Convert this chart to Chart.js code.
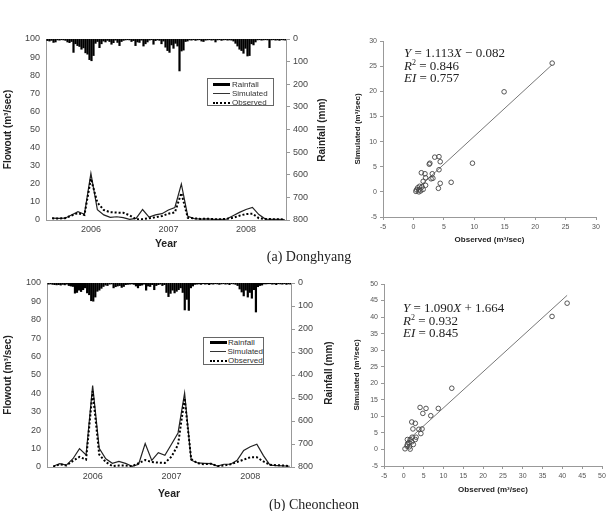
<!DOCTYPE html>
<html><head><meta charset="utf-8">
<script src="https://cdn.jsdelivr.net/npm/chart.js@4.4.1/dist/chart.umd.min.js"></script>
<style>
body{margin:0;background:#fff;width:611px;height:511px;position:relative;overflow:hidden;font-family:"Liberation Sans",Arial,sans-serif;}
canvas{position:absolute;}
.rt{position:absolute;font:bold 10px "Liberation Sans",Arial,sans-serif;color:#222;white-space:nowrap;transform:translate(-50%,-50%) rotate(-90deg);}
.leg{position:absolute;border:1px solid #666;background:#fff;font:8px "Liberation Sans",Arial,sans-serif;color:#333;box-sizing:border-box;}
.row{height:9px;line-height:9px;display:flex;align-items:center;white-space:nowrap;}
.sw{display:inline-block;width:17px;margin:0 2px 0 5px;}
.bar{height:3px;background:#000;}
.sol{border-top:1px solid #333;}
.dot{border-top:2px dotted #000;}
.eq{position:absolute;font:13px "Liberation Serif","Times New Roman",serif;color:#222;line-height:12.5px;white-space:nowrap;}
.cap{position:absolute;font:14px "Liberation Serif","Times New Roman",serif;color:#222;white-space:nowrap;transform:translate(-50%,-50%);}
</style></head><body>
<canvas id="tsA" width="340" height="254" style="left:0;top:0"></canvas>
<canvas id="tsB" width="340" height="254" style="left:0;top:250px"></canvas>
<canvas id="scA" width="271" height="252" style="left:340px;top:0"></canvas>
<canvas id="scB" width="271" height="252" style="left:340px;top:250px"></canvas>

<div class="rt" style="left:321px;top:130px">Rainfall (mm)</div>
<div class="rt" style="left:328px;top:373px">Rainfall (mm)</div>

<div class="leg" style="left:207px;top:78px;width:67px;height:28px;padding-top:1px">
  <div class="row"><span class="sw bar"></span>Rainfall</div>
  <div class="row"><span class="sw sol"></span>Simulated</div>
  <div class="row"><span class="sw dot"></span>Observed</div>
</div>
<div class="leg" style="left:203px;top:337px;width:61px;height:28px">
  <div class="row"><span class="sw bar" style="margin-left:6px;margin-right:1px"></span>Rainfall</div>
  <div class="row"><span class="sw sol" style="margin-left:6px;margin-right:1px"></span>Simulated</div>
  <div class="row"><span class="sw dot" style="margin-left:6px;margin-right:1px"></span>Observed</div>
</div>

<div class="eq" style="left:404px;top:47px"><i>Y</i> = 1.113<i>X</i> − 0.082<br><i>R</i><sup style="font-size:8px;line-height:0">2</sup> = 0.846<br><i>EI</i> = 0.757</div>
<div class="eq" style="left:403px;top:302px"><i>Y</i> = 1.090<i>X</i> + 1.664<br><i>R</i><sup style="font-size:8px;line-height:0">2</sup> = 0.932<br><i>EI</i> = 0.845</div>

<div class="cap" style="left:309px;top:257px">(a) Donghyang</div>
<div class="cap" style="left:314px;top:505px">(b) Cheoncheon</div>

<script>
// ---- time axis (monthly) ----
const months = ["2005-07","2005-08","2005-09","2005-10","2005-11","2005-12",
 "2006-01","2006-02","2006-03","2006-04","2006-05","2006-06","2006-07","2006-08","2006-09","2006-10","2006-11","2006-12",
 "2007-01","2007-02","2007-03","2007-04","2007-05","2007-06","2007-07","2007-08","2007-09","2007-10","2007-11","2007-12",
 "2008-01","2008-02","2008-03","2008-04","2008-05","2008-06","2008-07"];
const yearLabels = ["2006","2007","2008"];

// ---- (a) Donghyang ----
const simA = [1.0,0.9,1.0,2.8,4.6,3.2,25.7,5.7,2.8,1.5,1.8,1.3,0.4,0.9,5.8,1.6,2.8,3.5,5.5,6.9,19.9,2.0,0.8,0.5,0.6,0.4,0.3,0.5,2.3,4.2,5.8,7.0,3.0,0.5,0.4,0.3,0.2];
const obsA = [0.9,0.8,1.0,2.5,3.8,2.8,22.8,9.7,5.5,4.3,4.1,4.0,2.6,0.4,0.5,1.0,1.5,2.2,3.5,4.2,14.9,1.2,0.9,0.6,0.7,0.5,0.4,0.6,1.2,2.4,3.3,3.5,1.0,0.6,0.5,0.4,0.3];
const rainA = [6,8,5,14,12,3,4,2,3,5,12,15,10,58,20,28,32,44,38,60,66,90,95,72,18,10,37,20,8,12,5,10,22,15,4,14,28,10,5,3,
 2,3,10,6,28,12,14,4,30,20,12,4,2,22,6,3,5,20,8,35,50,58,25,40,18,30,140,52,48,10,8,3,4,2,5,3,2,8,10,4,
 3,2,4,3,12,3,2,5,3,2,4,3,4,8,18,30,44,50,62,40,74,72,20,25,12,3,2,4,3,2,3,37,3,2,4,3,5,2,3,4];
const scObsA = [22.8,14.9,9.7,6.2,3.5,4.2,4.4,2.6,2.7,4.2,4.1,4.4,3.1,3.2,2.9,1.3,1.9,2.0,1.6,2.0,1.4,1.0,0.7,0.5,0.4,0.9,1.2,1.6,0.9];
const scSimA = [25.6,19.9,5.7,1.9,6.9,7.0,6.0,5.5,5.7,4.4,0.7,1.7,3.6,2.7,2.6,3.8,3.6,2.8,2.1,1.3,1.0,1.1,0.8,0.4,0.1,0.4,0.2,0.5,0.0];
const fitA = [1.113, -0.082];

// ---- (b) Cheoncheon ----
const simB = [0.4,1.8,1.0,4.5,10.0,6.5,44.2,10.2,4.5,2.0,3.0,2.0,0.4,1.5,12.7,3.6,7.8,6.4,12.4,18.5,40.2,3.7,2.2,2.0,1.8,0.5,1.5,1.5,3.6,9.0,11.0,12.4,6.2,1.0,0.8,0.6,0.4];
const obsB = [0.2,1.5,0.8,3.3,5.5,4.0,41.2,6.8,2.7,0.5,0.8,0.8,0.4,2.1,3.8,2.7,2.4,2.2,5.6,12.1,37.4,4.3,2.0,1.5,1.8,0.5,0.8,1.5,2.7,4.0,5.3,5.3,3.0,1.2,1.0,0.8,0.5];
const rainB = [4,3,5,6,7,6,8,5,7,4,10,12,14,43,40,30,36,28,20,42,50,76,78,60,35,30,22,14,8,10,
 4,3,20,15,12,10,18,14,6,5,4,3,5,12,20,10,8,4,30,12,14,6,28,10,6,4,10,6,40,58,
 44,30,42,35,28,20,40,116,70,118,20,12,5,4,3,5,2,4,3,6,3,4,2,3,5,3,2,4,3,6,
 2,3,5,10,25,38,55,30,60,40,65,28,125,15,10,8,3,3,2,2,4,3,6,2,3,4,2,5,3,4];
const scObsB = [41.2,37.4,12.1,8.7,6.8,4.1,5.6,4.8,2.0,2.9,2.3,3.8,4.6,4.3,3.1,2.1,0.9,1.6,1.3,2.0,2.4,0.8,1.4,0.3,1.6,0.9,2.9];
const scSimB = [44.2,40.2,18.5,12.4,10.2,12.7,12.4,10.9,8.3,7.9,6.2,6.1,6.2,4.8,3.7,3.7,3.0,3.0,2.0,2.3,1.5,1.0,0.8,0.2,0.1,1.5,3.0];
const fitB = [1.090, 1.664];

Chart.defaults.font.family = "'Liberation Sans', Arial, sans-serif";
Chart.defaults.color = '#444';

const tickFont = {size: 9};
const titleFont = {size: 10, weight: 'bold'};

function tsChart(id, rain, sim, obs, g) {
  const yearIdx = yearLabels.map(y => months.indexOf(y + "-01"));
  return new Chart(document.getElementById(id), {
    type: 'line',
    data: {
      datasets: [
        {label: 'Simulated', data: months.map((m, i) => ({x: i, y: sim[i]})), xAxisID: 'x', yAxisID: 'y',
         borderColor: '#222', borderWidth: 1.2, pointRadius: 0, tension: 0, order: 1},
        {label: 'Observed', data: months.map((m, i) => ({x: i, y: obs[i]})), xAxisID: 'x', yAxisID: 'y',
         borderColor: '#000', borderWidth: 2, borderDash: [2, 2], pointRadius: 0, tension: 0, order: 0},
        {type: 'bar', label: 'Rainfall', data: rain, xAxisID: 'xr', yAxisID: 'yr',
         backgroundColor: '#000', barPercentage: 1, categoryPercentage: 1, inflateAmount: 0.6, order: 2}
      ]
    },
    options: {
      responsive: false, animation: false,
      layout: {padding: {top: g.top, left: 0, right: 0, bottom: 0}},
      plugins: {legend: {display: false}, tooltip: {enabled: false}},
      scales: {
        x: {type: 'linear', position: 'bottom', min: -0.95, max: 36.2,
            afterFit(s) { s.height = g.xh; },
            afterBuildTicks(s) { s.ticks = yearIdx.map(v => ({value: v})); },
            ticks: {font: tickFont, color: '#444', padding: 4, maxRotation: 0,
                    callback: v => months[v] ? months[v].slice(0, 4) : ''},
            grid: {display: false, drawTicks: false}, border: {color: '#999'},
            title: {display: true, text: 'Year', font: {size: 10.5, weight: 'bold'}, color: '#222'}},
        xr: {type: 'category', labels: rain.map((r, i) => String(i)), display: false, offset: true},
        y: {position: 'left', min: 0, max: 100,
            afterFit(s) { s.width = g.lw; },
            ticks: {stepSize: 10, font: tickFont, color: '#444', padding: 6},
            grid: {display: false, drawTicks: false}, border: {color: '#999'},
            title: {display: true, text: 'Flowout (m³/sec)', font: titleFont, color: '#222', padding: {top: 2}}},
        yr: {position: 'right', reverse: true, min: 0, max: 800,
            afterFit(s) { s.width = g.rw; },
            ticks: {stepSize: 100, font: tickFont, color: '#444', padding: 3},
            grid: {drawOnChartArea: false, drawTicks: true, tickLength: 4, color: '#999'}, border: {color: '#999'}}
      }
    }
  });
}

function scChart(id, obs, sim, fit, g) {
  const xmin = Math.min(...obs), xmax = Math.max(...obs);
  const line = [xmin, xmax].map(x => ({x: x, y: fit[0] * x + fit[1]}));
  const axisTick = {font: {size: 7}, color: '#555', stepSize: 5, padding: 3};
  const axisGrid = {drawOnChartArea: false, drawTicks: true, tickLength: 3, color: '#999'};
  return new Chart(document.getElementById(id), {
    type: 'scatter',
    data: {
      datasets: [
        {data: obs.map((o, i) => ({x: o, y: sim[i]})), pointStyle: 'circle', pointRadius: 2.3,
         borderColor: '#444', backgroundColor: 'rgba(0,0,0,0)', pointBorderWidth: 0.9},
        {type: 'line', data: line, borderColor: '#777', borderWidth: 1, pointRadius: 0}
      ]
    },
    options: {
      responsive: false, animation: false,
      layout: {padding: {top: g.top, right: g.right, left: 0, bottom: 0}},
      plugins: {legend: {display: false}, tooltip: {enabled: false}},
      scales: {
        x: {type: 'linear', min: -5, max: g.max, afterFit(s) { s.height = g.xh; },
            ticks: Object.assign({maxRotation: 0}, axisTick), grid: axisGrid, border: {color: '#999'},
            title: {display: true, text: 'Observed (m³/sec)', font: {size: 8, weight: 'bold'}, color: '#222', padding: {bottom: 7}}},
        y: {type: 'linear', min: -5, max: g.max, afterFit(s) { s.width = g.lw; },
            ticks: axisTick, grid: axisGrid, border: {color: '#999'},
            title: {display: true, text: 'Simulated (m³/sec)', font: {size: 8, weight: 'bold'}, color: '#222', padding: {top: g.tp}}}
      }
    }
  });
}

tsChart('tsA', rainA, simA, obsA, {top: 39, xh: 34, lw: 46, rw: 54});
tsChart('tsB', rainB, simB, obsB, {top: 33, xh: 37, lw: 47, rw: 49});
scChart('scA', scObsA, scSimA, fitA, {top: 41, right: 15, xh: 35, lw: 43, max: 30, tp: 13});
scChart('scB', scObsB, scSimB, fitB, {top: 34, right: 9, xh: 36, lw: 44, max: 50, tp: 12});
</script>
</body></html>
